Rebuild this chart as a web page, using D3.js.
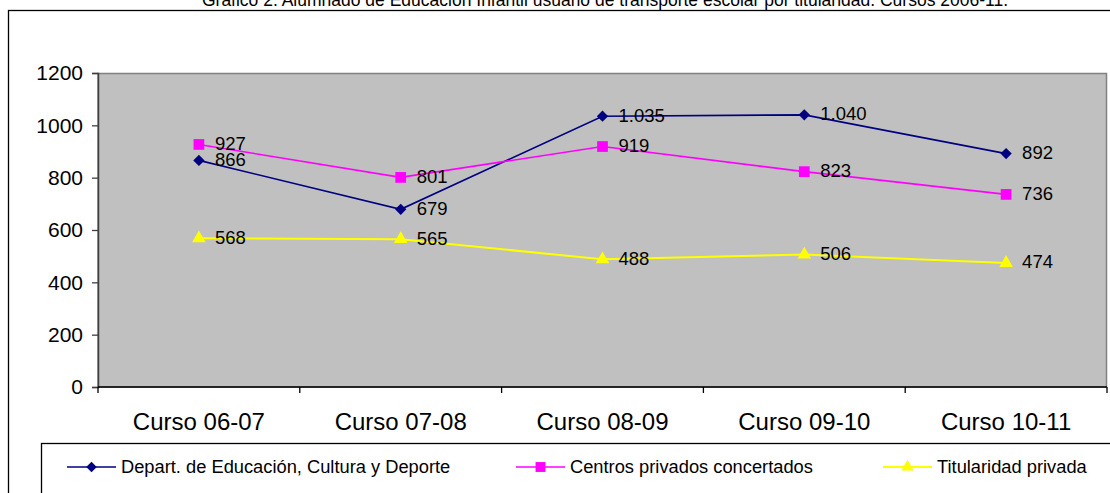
<!DOCTYPE html>
<html>
<head>
<meta charset="utf-8">
<script src="https://cdn.jsdelivr.net/npm/d3@7"></script>
<style>
  html, body { margin: 0; padding: 0; background: #fff; }
  svg { display: block; font-family: "Liberation Sans", Arial, sans-serif; }
</style>
</head>
<body>
<svg id="chart" width="1110" height="493"></svg>
<script>
// Alumnado de Educación Infantil usuario de transporte escolar, por titularidad
const cursos = ["Curso 06-07", "Curso 07-08", "Curso 08-09", "Curso 09-10", "Curso 10-11"];
const departamento = [866, 679, 1035, 1040, 892];
const concertados = [927, 801, 919, 823, 736];
const privada = [568, 565, 488, 506, 474];
const yTicks = [0, 200, 400, 600, 800, 1000, 1200];
const seriesNames = ["Depart. de Educación, Cultura y Deporte", "Centros privados concertados", "Titularidad privada"];
const titulo = "Gráfico 2. Alumnado de Educación Infantil usuario de transporte escolar por titularidad. Cursos 2006-11.";

// diamond = square turned 45 degrees
const series = [
  { name: seriesNames[0], values: departamento, color: "#000080", symbol: d3.symbolSquare, rotate: 45, size: 64, width: 1.6 },
  { name: seriesNames[1], values: concertados, color: "#FF00FF", symbol: d3.symbolSquare, rotate: 0, size: 115, width: 1.6 },
  { name: seriesNames[2], values: privada, color: "#FFFF00", symbol: d3.symbolTriangle, rotate: 0, size: 80, width: 2 }
];

const es = d3.formatLocale({ decimal: ",", thousands: ".", grouping: [3], currency: ["", " €"] });
const fmt = es.format(",d");

const svg = d3.select("#chart");
const plot = { left: 98, top: 73, right: 1107, bottom: 387 };

// Outer frame and title
svg.append("rect").attr("x", 8.5).attr("y", 10.5).attr("width", 1200).attr("height", 600)
  .attr("fill", "#fff").attr("stroke", "#000").attr("stroke-width", 1.3);
svg.append("text").attr("x", 605).attr("y", 6).attr("text-anchor", "middle")
  .attr("font-size", 17.5).attr("fill", "#000").text(titulo);

const x = d3.scaleBand().domain(cursos).range([plot.left, plot.right]);
const y = d3.scaleLinear().domain([0, 1200]).range([plot.bottom, plot.top]);

// Plot area
svg.append("rect").attr("x", plot.left).attr("y", plot.top + 0.5)
  .attr("width", plot.right - plot.left - 0.5).attr("height", plot.bottom - plot.top - 0.5)
  .attr("fill", "#C0C0C0").attr("stroke", "#808080").attr("stroke-width", 1.5);

// Y axis
const yAxis = svg.append("g").attr("transform", `translate(${plot.left},0)`)
  .call(d3.axisLeft(y).tickValues(yTicks).tickFormat(d3.format("d")).tickSize(6).tickPadding(9));
yAxis.select(".domain").attr("stroke", "#404040").attr("stroke-width", 1.5);
yAxis.selectAll(".tick line").attr("stroke", "#404040").attr("stroke-width", 1.3);
yAxis.selectAll(".tick text").attr("font-size", 21).attr("fill", "#000")
  .attr("font-family", "Liberation Sans, Arial, sans-serif");

// X axis: ticks at category boundaries
const xAxisG = svg.append("g").attr("transform", `translate(0,${plot.bottom})`);
xAxisG.append("line").attr("x1", plot.left).attr("x2", plot.right).attr("stroke", "#000").attr("stroke-width", 1.5);
const bounds = cursos.map(c => x(c)).concat([x(cursos[cursos.length - 1]) + x.bandwidth()]);
xAxisG.selectAll("line.b").data(bounds).join("line").attr("class", "b")
  .attr("x1", d => d).attr("x2", d => d).attr("y1", 0).attr("y2", 6)
  .attr("stroke", "#000").attr("stroke-width", 1.3);
xAxisG.selectAll("text").data(cursos).join("text")
  .attr("x", d => x(d) + x.bandwidth() / 2).attr("y", 43).attr("text-anchor", "middle")
  .attr("font-size", 24).attr("fill", "#000").text(d => d);

const cx = (d, i) => x(cursos[i]) + x.bandwidth() / 2;
const line = d3.line().x(cx).y(d => y(d));

series.forEach(s => {
  const g = svg.append("g");
  g.append("path").datum(s.values).attr("d", line)
    .attr("fill", "none").attr("stroke", s.color).attr("stroke-width", s.width);
  g.selectAll("path.m").data(s.values).join("path").attr("class", "m")
    .attr("transform", (d, i) => `translate(${cx(d, i)},${y(d)}) rotate(${s.rotate})`)
    .attr("d", d3.symbol().type(s.symbol).size(s.size)).attr("fill", s.color);
  g.selectAll("text").data(s.values).join("text")
    .attr("x", (d, i) => cx(d, i) + 16).attr("y", d => y(d) - 1)
    .attr("dy", "0.35em").attr("font-size", 18.5).attr("fill", "#000")
    .text(d => fmt(d));
});

// Legend
const legY = 467;
svg.append("rect").attr("x", 41.5).attr("y", 443.5).attr("width", 1200).attr("height", 100)
  .attr("fill", "#fff").attr("stroke", "#000").attr("stroke-width", 1.3);
const legX = [67, 516, 883];
series.forEach((s, i) => {
  const g = svg.append("g").attr("transform", `translate(${legX[i]},${legY})`);
  g.append("line").attr("x1", 0).attr("x2", 49).attr("stroke", s.color).attr("stroke-width", s.width);
  g.append("path").attr("transform", `translate(24.5,0) rotate(${s.rotate})`)
    .attr("d", d3.symbol().type(s.symbol).size(s.size * 0.85)).attr("fill", s.color);
  g.append("text").attr("x", 54).attr("dy", "0.35em").attr("font-size", 18.3).attr("fill", "#000").text(s.name);
});
</script>
</body>
</html>
